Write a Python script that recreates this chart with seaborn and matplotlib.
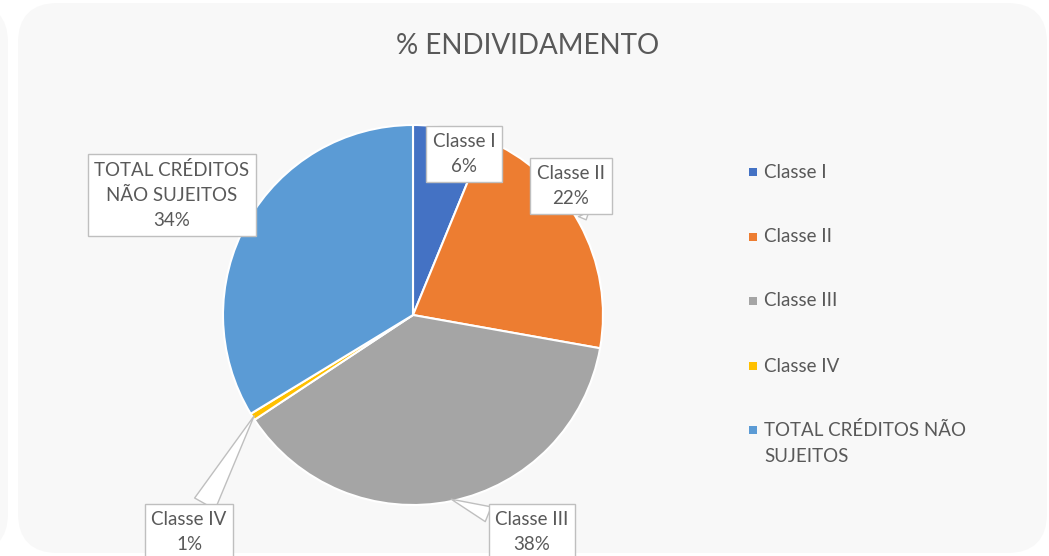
import numpy as np
import matplotlib
matplotlib.use('Agg')
import matplotlib.pyplot as plt
import seaborn as sns
from matplotlib.patches import FancyBboxPatch, Rectangle
from matplotlib.transforms import IdentityTransform

# ---------------- data ----------------
categories = ['Classe I', 'Classe II', 'Classe III', 'Classe IV',
              'TOTAL CRÉDITOS NÃO SUJEITOS']
values = [6.2, 21.6, 37.9, 0.6, 33.7]
colors = ['#4472C4', '#ED7D31', '#A5A5A5', '#FFC000', '#5B9BD5']
label_names = ['Classe I', 'Classe II', 'Classe III', 'Classe IV',
               'TOTAL CRÉDITOS\nNÃO SUJEITOS']
legend_lines = [['Classe I'], ['Classe II'], ['Classe III'], ['Classe IV'],
                ['TOTAL CRÉDITOS NÃO', 'SUJEITOS']]
title = '% ENDIVIDAMENTO'

# ---------------- style ----------------
sns.set_theme(style='white')
plt.rcParams['font.family'] = ['Lato', 'DejaVu Sans']
TXT = '#595959'

W, H = 1049, 556
fig = plt.figure(figsize=(W / 100, H / 100), dpi=100)
fig.patch.set_facecolor('white')

def px(x, y):
    """image pixel (top-left origin) -> figure fraction"""
    return x / W, 1 - y / H

# background panels (display pixels, bottom-left origin)
for (x0, x1) in [(-120, 8), (18, 1047)]:
    fig.patches.append(FancyBboxPatch((x0, 3), x1 - x0, 550,
                                      boxstyle='round,pad=0,rounding_size=40',
                                      transform=IdentityTransform(),
                                      facecolor='#F8F8F8', edgecolor='none',
                                      zorder=-10))

fig.text(*px(528, 46), title, ha='center', va='center', fontsize=20, color=TXT)

# ---------------- pie ----------------
cx, cy, R = 413, 315, 190
ax = fig.add_axes([(cx - R) / W, (H - cy - R) / H, 2 * R / W, 2 * R / H])
wedges, _ = ax.pie(values, colors=colors, startangle=90, counterclock=False,
                   radius=1, wedgeprops=dict(edgecolor='white', linewidth=1.5))
ax.set_xlim(-1, 1)
ax.set_ylim(-1, 1)
ax.axis('off')

# data labels (box centre in image pixels, pointer radius or None)
label_pos = [(464, 154), (571, 186), (532, 532), (189, 532), (172, 195)]
pointer_r = [None, 1.04, 0.99, 0.99, None]
tail_w = [0, 0.6, 0.85, 1.25, 0]
LFS = 13.5

for i, w in enumerate(wedges):
    pct = f"{round(values[i] / sum(values) * 100)}%"
    txt = f"{label_names[i]}\n{pct}"
    bbox = dict(boxstyle='square,pad=0.35', fc='white', ec='#BFBFBF', lw=1)
    if pointer_r[i] is None:
        fig.text(*px(*label_pos[i]), txt, ha='center', va='center',
                 fontsize=LFS, color=TXT, linespacing=1.6, bbox=bbox)
    else:
        mid = np.deg2rad((w.theta1 + w.theta2) / 2)
        r = pointer_r[i]
        ax.annotate(txt, xy=(r * np.cos(mid), r * np.sin(mid)), xycoords='data',
                    xytext=px(*label_pos[i]), textcoords='figure fraction',
                    ha='center', va='center', fontsize=LFS, color=TXT,
                    linespacing=1.6, bbox=bbox, annotation_clip=False,
                    arrowprops=dict(arrowstyle=f'wedge,tail_width={tail_w[i]},shrink_factor=0.5',
                                    fc='white', ec='#BFBFBF', lw=1,
                                    shrinkA=0, shrinkB=0))

# ---------------- legend ----------------
leg_y = [172, 237, 301, 366, 430]
for i, lines in enumerate(legend_lines):
    y = leg_y[i]
    fig.patches.append(Rectangle((749, H - y - 4), 8, 8, transform=IdentityTransform(),
                                 facecolor=colors[i], edgecolor='none'))
    for j, line in enumerate(lines):
        fig.text(*px(764, y + j * 26), line, ha='left', va='center',
                 fontsize=13.5, color=TXT)

fig.savefig('out.png', dpi=100, facecolor='white')
